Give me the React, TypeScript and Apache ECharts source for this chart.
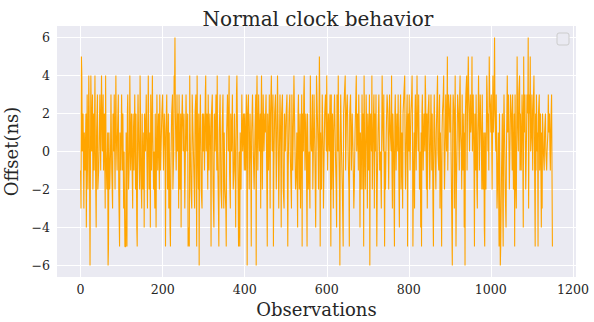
import React, { useEffect, useRef } from "react";
import * as echarts from "echarts";

const title = "Normal clock behavior";
const xName = "Observations";
const yName = "Offset(ns)";
const xTicks = [0, 200, 400, 600, 800, 1000, 1200];
const yTicks = [-6, -4, -2, 0, 2, 4, 6];

// Offsets (ns) per observation, read row by row (50 per row)
const offsets0 = [-1,-3,5,4,0,0,2,2,-3,1, 1,-1,-1,2,-4,-4,3,3,-2,-2, 4,2,2,-6,-1,4,4,0,0,3, -2,-2,2,-1,-1,4,0,0,-4,1, 1,3,-2,-2,-1,0,0,3,3,-1];
const offsets1 = [2,4,4,0,0,3,-1,-1,2,2, -3,4,0,0,-2,-2,1,-6,-5,1, 1,-2,-2,0,3,3,-1,-1,-3,2, 2,0,3,3,-2,-2,4,1,1,-1, 1,1,3,-2,-2,-5,1,1,-1,-1];
const offsets2 = [3,3,-1,2,2,-3,0,0,-5,-5, -5,1,1,-5,2,3,3,-2,-2,0, 4,4,-1,-1,2,0,0,-3,2,2, -1,-1,3,3,-2,2,2,-4,-5,1, 3,3,0,0,-2,4,2,-1,-1,-3];
const offsets3 = [2,2,-2,-2,1,-4,2,2,0,0, 3,3,-1,-3,1,4,4,-2,-2,1, -4,3,3,-1,-1,4,1,1,-2,0, 0,-3,2,2,-4,0,3,3,-1,-1, 2,2,-2,3,3,-1,0,0,2,2];
const offsets4 = [3,3,-1,-1,2,2,0,-5,1,1, 3,3,-2,-2,2,-3,1,1,-4,-5, -1,-1,2,2,3,-2,-2,0,4,3, 6,2,2,-1,-1,3,0,0,2,-3, 3,3,-2,-2,2,-4,1,1,3,3];
const offsets5 = [0,0,2,2,-3,-1,-1,3,3,0, 0,2,-5,-5,-4,-5,4,1,1,-2, -2,-3,3,3,1,1,-1,-1,-3,2, 2,3,3,-5,4,1,1,-2,2,-6, 0,0,3,3,-2,-2,-3,2,2,0];
const offsets6 = [2,2,-1,-1,3,4,0,0,2,2, -2,3,3,-1,-1,2,2,0,-5,2, 2,3,3,-2,-2,-4,2,2,0,0, 3,3,-1,4,0,0,-3,-5,1,1, 3,3,-2,-2,-3,1,1,3,3,-3];
const offsets7 = [1,1,-2,-2,-3,-5,1,1,3,3, 0,0,4,-1,-1,-3,2,2,0,0, 3,3,-2,-2,-1,2,2,-1,-4,0, 3,4,2,2,-2,-5,-5,0,-5,1, 1,-2,-2,3,3,0,0,2,2,-1];
const offsets8 = [2,2,-1,-1,3,0,-6,2,2,3, 3,-2,-2,2,2,-1,-5,1,1,3, 3,0,0,-2,-2,1,1,3,-6,2, 4,4,-1,-1,3,3,0,0,2,-3, 2,4,4,-2,-2,3,3,0,0,2];
const offsets9 = [1,1,3,3,-2,-5,2,2,-1,-1, 3,3,-3,2,2,4,4,0,0,3, -5,-1,-1,2,2,3,3,-2,-2,2, 4,2,2,-3,-1,-1,3,3,0,-4, 2,2,3,3,-2,-2,-3,2,2,0];
const offsets10 = [0,2,2,3,3,-5,-1,-1,2,2, 3,0,0,-2,-3,3,3,-1,-1,2, 4,4,1,1,-2,-2,-1,1,1,-4, 2,3,3,-2,-2,2,-3,-1,-1,3, -5,2,2,0,3,4,4,-1,-1,2];
const offsets11 = [1,1,-5,2,2,-2,-2,0,0,-3, 4,1,1,0,0,3,-2,-2,1,3, 3,0,0,-4,-1,4,4,2,2,0, -2,-2,5,3,-5,1,1,-2,-2,3, 3,0,-3,-1,-1,2,2,3,3,0];
const offsets12 = [4,4,-1,-1,2,2,0,0,3,3, -5,3,-2,-2,2,2,-3,1,1,3, 3,0,0,-2,-4,3,3,0,4,1, 1,-2,-6,1,3,3,0,0,-2,-2, -5,2,2,3,3,4,-1,-1,2,2];
const offsets13 = [3,3,0,0,-2,-5,2,2,3,3, -1,-1,2,2,0,0,-3,-2,-2,1, 1,3,4,0,0,2,2,-1,3,3, 0,-4,1,1,-2,-2,3,3,-2,2, -5,4,1,1,-2,-2,3,3,0,-3];
const offsets14 = [2,2,-1,-1,3,-6,1,2,2,0, 4,-2,-2,1,1,3,-3,2,2,0, 3,3,-5,-2,-2,1,1,3,3,-1, -1,0,0,-3,1,4,2,2,0,3, 3,-5,0,-2,-2,1,1,3,3,2];
const offsets15 = [0,-2,-2,3,3,1,1,0,4,-1, -3,2,2,0,0,-5,2,3,3,-1, -1,2,2,0,3,3,-2,-4,1,1, 3,-2,-2,1,1,-3,2,2,3,3, 4,0,-2,-2,1,1,3,-5,1,2];
const offsets16 = [0,3,3,-1,-1,2,2,3,4,1, -5,-2,-2,1,-3,2,3,3,-1,-1, 4,2,2,0,3,3,-2,-2,0,-4, 1,-5,2,3,3,-1,-1,2,2,0, 4,3,3,-2,2,-3,0,2,2,3];
const offsets17 = [0,-2,-2,1,3,3,-1,2,2,-3, -5,1,3,3,0,0,-2,1,1,3, 4,0,0,-1,2,3,-3,1,1,-2, -5,1,2,2,3,4,0,-2,-2,1, 3,3,0,2,5,-1,-1,3,3,2];
const offsets18 = [1,1,3,0,-2,-2,-6,1,3,3, 2,-3,1,4,0,-5,-2,-2,1,3, 3,2,2,-1,3,4,1,1,0,-2, 3,3,-1,-1,2,-4,1,-6,2,3, 3,4,-1,2,2,5,3,3,0,2];
const offsets19 = [3,1,1,2,5,0,0,3,3,-1, -5,2,2,-1,3,3,-2,-3,1,2, 4,4,-1,-1,3,2,2,0,-2,3, 3,-2,-2,1,-4,-5,1,1,-2,-2, 4,3,3,0,2,-1,5,3,3,2];
const offsets20 = [1,3,3,-2,-2,4,1,1,3,6, 2,2,0,3,3,-3,-2,-2,1,1, -5,2,2,-6,-5,-5,-1,-1,2,-3, -5,1,3,3,0,-2,-2,-4,0,2, 4,1,1,3,3,-2,-2,1,3,3];
const offsets21 = [2,2,-1,3,3,-2,-2,2,-5,3, 3,-2,-3,1,5,2,2,0,3,3, 4,-1,2,2,-1,-1,3,2,2,-4, 5,1,1,3,3,-2,-2,1,3,3, 2,6,-3,1,3,2,5,0,0,1];
const offsets22 = [3,3,-1,2,2,4,1,1,-5,2, -1,3,3,0,1,-5,2,2,3,-1, -1,2,2,-4,1,-3,2,2,0,0, -1,1,1,2,0,0,-1,0,0,1, 3,1,1,2,0,-1,1,2,3,3, -5];

const offsets: number[] = [
  ...offsets0, ...offsets1, ...offsets2, ...offsets3, ...offsets4, ...offsets5,
  ...offsets6, ...offsets7, ...offsets8, ...offsets9, ...offsets10, ...offsets11,
  ...offsets12, ...offsets13, ...offsets14, ...offsets15, ...offsets16, ...offsets17,
  ...offsets18, ...offsets19, ...offsets20, ...offsets21, ...offsets22,
];

const FONT = "DejaVu Serif";
const TEXT = "#262626";

export default function App() {
  const ref = useRef<HTMLDivElement>(null);
  useEffect(() => {
    if (!ref.current) return;
    const chart = echarts.init(ref.current, undefined, { renderer: "svg" });
    const n = offsets.length;
    const xPad = (n - 1) * 0.05;
    chart.setOption({
      animation: false,
      backgroundColor: "#ffffff",
      title: {
        text: title,
        left: 313,
        textAlign: "center",
        top: 4,
        textStyle: { fontFamily: FONT, fontSize: 20, fontWeight: "normal", color: TEXT },
      },
      grid: {
        left: 57,
        right: 18,
        top: 26,
        bottom: 45,
        show: true,
        backgroundColor: "#EAEAF2",
        borderWidth: 0,
        containLabel: false,
        outerBoundsMode: "none",
      },
      xAxis: {
        type: "value",
        min: -xPad,
        max: n - 1 + xPad,
        name: xName,
        nameLocation: "middle",
        nameGap: 20,
        nameTextStyle: { fontFamily: FONT, fontSize: 18, color: TEXT },
        axisLine: { show: false },
        axisTick: { show: false, customValues: xTicks },
        axisLabel: {
          customValues: xTicks,
          fontFamily: FONT,
          fontSize: 12.6,
          color: TEXT,
          margin: 6,
          formatter: (v: number) => String(v),
        },
        splitLine: { show: true, lineStyle: { color: "#ffffff", width: 1 } },
      },
      yAxis: {
        type: "value",
        min: -6.6,
        max: 6.6,
        name: yName,
        nameLocation: "middle",
        nameGap: 32,
        nameTextStyle: { fontFamily: FONT, fontSize: 18, color: TEXT },
        axisLine: { show: false },
        axisTick: { show: false, customValues: yTicks },
        axisLabel: {
          customValues: yTicks,
          fontFamily: FONT,
          fontSize: 12.6,
          color: TEXT,
          margin: 7,
          formatter: (v: number) => (v < 0 ? "\u2212" + Math.abs(v) : String(v)),
        },
        splitLine: { show: true, lineStyle: { color: "#ffffff", width: 1 } },
      },
      graphic: [
        {
          type: "rect",
          shape: { x: 557, y: 33, width: 12, height: 12, r: 2 },
          style: { fill: "#EAEAF2", stroke: "#cccccc", lineWidth: 1 },
          z: 10,
        },
      ],
      series: [
        {
          type: "line",
          data: offsets.map((v, i) => [i, v]),
          showSymbol: false,
          symbol: "none",
          lineStyle: { color: "#FFA500", width: 1.1 },
          itemStyle: { color: "#FFA500" },
        },
      ],
    });
    return () => chart.dispose();
  }, []);
  return (
    <div
      ref={ref}
      style={{ position: "fixed", left: 0, top: 0, width: 594, height: 322 }}
    />
  );
}
